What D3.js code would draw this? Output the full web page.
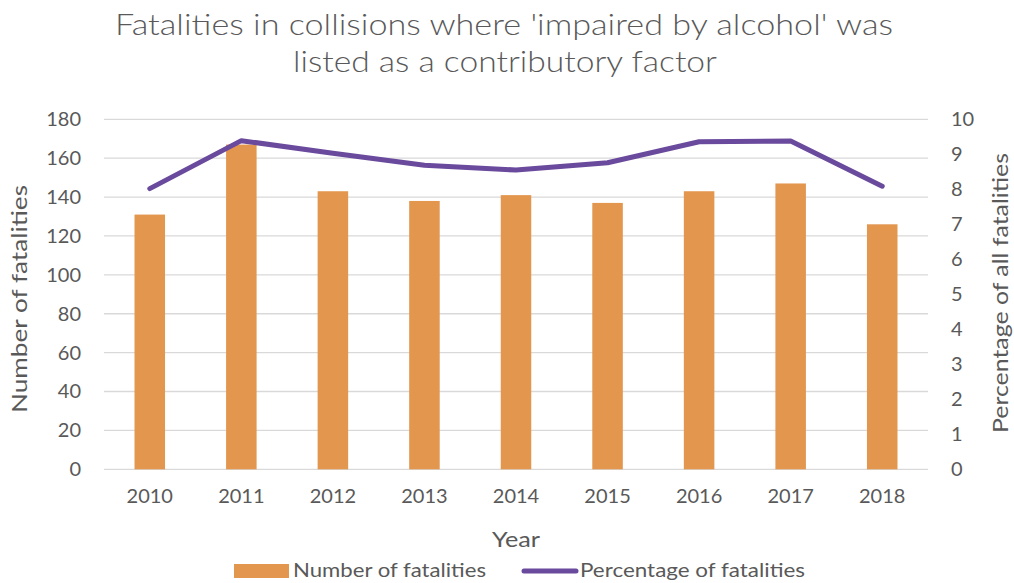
<!DOCTYPE html>
<html>
<head>
<meta charset="utf-8">
<script src="https://cdn.jsdelivr.net/npm/d3@7"></script>
<style>
  body { margin: 0; background: #fff; }
  svg { font-family: Lato, "Open Sans", sans-serif; }
</style>
</head>
<body>
<svg id="chart" width="1014" height="583"></svg>
<script>
const years = ["2010", "2011", "2012", "2013", "2014", "2015", "2016", "2017", "2018"];
const fatalities = [131, 167, 143, 138, 141, 137, 143, 147, 126];
const percentages = [8.02, 9.39, 9.03, 8.69, 8.55, 8.76, 9.36, 9.38, 8.09];
const leftTicks = [0, 20, 40, 60, 80, 100, 120, 140, 160, 180];
const rightTicks = [0, 1, 2, 3, 4, 5, 6, 7, 8, 9, 10];

const svg = d3.select("#chart");
const textColor = "#595959";
const barColor = "#e2964e";
const lineColor = "#6a4a9c";

const x = d3.scaleBand().domain(years).range([104, 928]).paddingInner(2 / 3).paddingOuter(1 / 3);
const yLeft = d3.scaleLinear().domain([0, 180]).range([469.3, 119.3]);
const yRight = d3.scaleLinear().domain([0, 10]).range([469.3, 119.3]);

// stretched text helper, the source picture is wider than its fonts
function label(sel, txt, size, len) {
    return sel.append("text")
        .attr("font-size", size)
        .attr("fill", textColor)
        .attr("textLength", len)
        .attr("lengthAdjust", "spacingAndGlyphs")
        .text(txt);
}

// title
label(svg, "Fatalities in collisions where 'impaired by alcohol' was", 30, 778)
    .attr("x", 115).attr("y", 35).attr("font-weight", 300);
label(svg, "listed as a contributory factor", 30, 424)
    .attr("x", 293).attr("y", 72).attr("font-weight", 300);

// gridlines
svg.append("g")
    .selectAll("line")
    .data(leftTicks)
    .enter().append("line")
    .attr("x1", 104).attr("x2", 928)
    .attr("y1", d => yLeft(d)).attr("y2", d => yLeft(d))
    .attr("stroke", "#d9d9d9")
    .attr("stroke-width", 1.3);

// left axis
const leftAxis = svg.append("g")
    .attr("transform", "translate(81,0)")
    .call(d3.axisLeft(yLeft).tickValues(leftTicks).tickSize(0).tickPadding(0));
leftAxis.select(".domain").remove();
leftAxis.selectAll("text")
    .attr("font-size", 20).attr("fill", textColor).attr("font-family", "Lato, sans-serif");

// right axis
const rightAxis = svg.append("g")
    .attr("transform", "translate(951,0)")
    .call(d3.axisRight(yRight).tickValues(rightTicks).tickSize(0).tickPadding(0));
rightAxis.select(".domain").remove();
rightAxis.selectAll("text")
    .attr("font-size", 20).attr("fill", textColor).attr("font-family", "Lato, sans-serif");

// x axis
const xAxis = svg.append("g")
    .attr("transform", "translate(0,489)")
    .call(d3.axisBottom(x).tickSize(0).tickPadding(0));
xAxis.select(".domain").remove();
xAxis.selectAll("text")
    .attr("font-size", 20).attr("fill", textColor).attr("font-family", "Lato, sans-serif");

// bars
svg.append("g")
    .selectAll("rect")
    .data(fatalities)
    .enter().append("rect")
    .attr("x", (d, i) => x(years[i]))
    .attr("y", d => yLeft(d))
    .attr("width", x.bandwidth())
    .attr("height", d => yLeft(0) - yLeft(d))
    .attr("fill", barColor);

// line
const line = d3.line()
    .x((d, i) => x(years[i]) + x.bandwidth() / 2)
    .y(d => yRight(d));
svg.append("path")
    .datum(percentages)
    .attr("d", line)
    .attr("fill", "none")
    .attr("stroke", lineColor)
    .attr("stroke-width", 5)
    .attr("stroke-linecap", "round")
    .attr("stroke-linejoin", "round");

// axis titles
label(svg, "Number of fatalities", 22, 228)
    .attr("transform", "translate(27,299) rotate(-90)")
    .attr("text-anchor", "middle");
label(svg, "Percentage of all fatalities", 22, 280)
    .attr("transform", "translate(1008,293) rotate(-90)")
    .attr("text-anchor", "middle");
label(svg, "Year", 22, 48)
    .attr("x", 492).attr("y", 547);

// legend
const legend = svg.append("g");
legend.append("rect")
    .attr("x", 234).attr("y", 564).attr("width", 55).attr("height", 14)
    .attr("fill", barColor);
label(legend, "Number of fatalities", 20, 193)
    .attr("x", 293).attr("y", 577);
legend.append("line")
    .attr("x1", 524).attr("x2", 576).attr("y1", 571).attr("y2", 571)
    .attr("stroke", lineColor).attr("stroke-width", 5).attr("stroke-linecap", "round");
label(legend, "Percentage of fatalities", 20, 225)
    .attr("x", 580).attr("y", 577);
</script>
</body>
</html>
